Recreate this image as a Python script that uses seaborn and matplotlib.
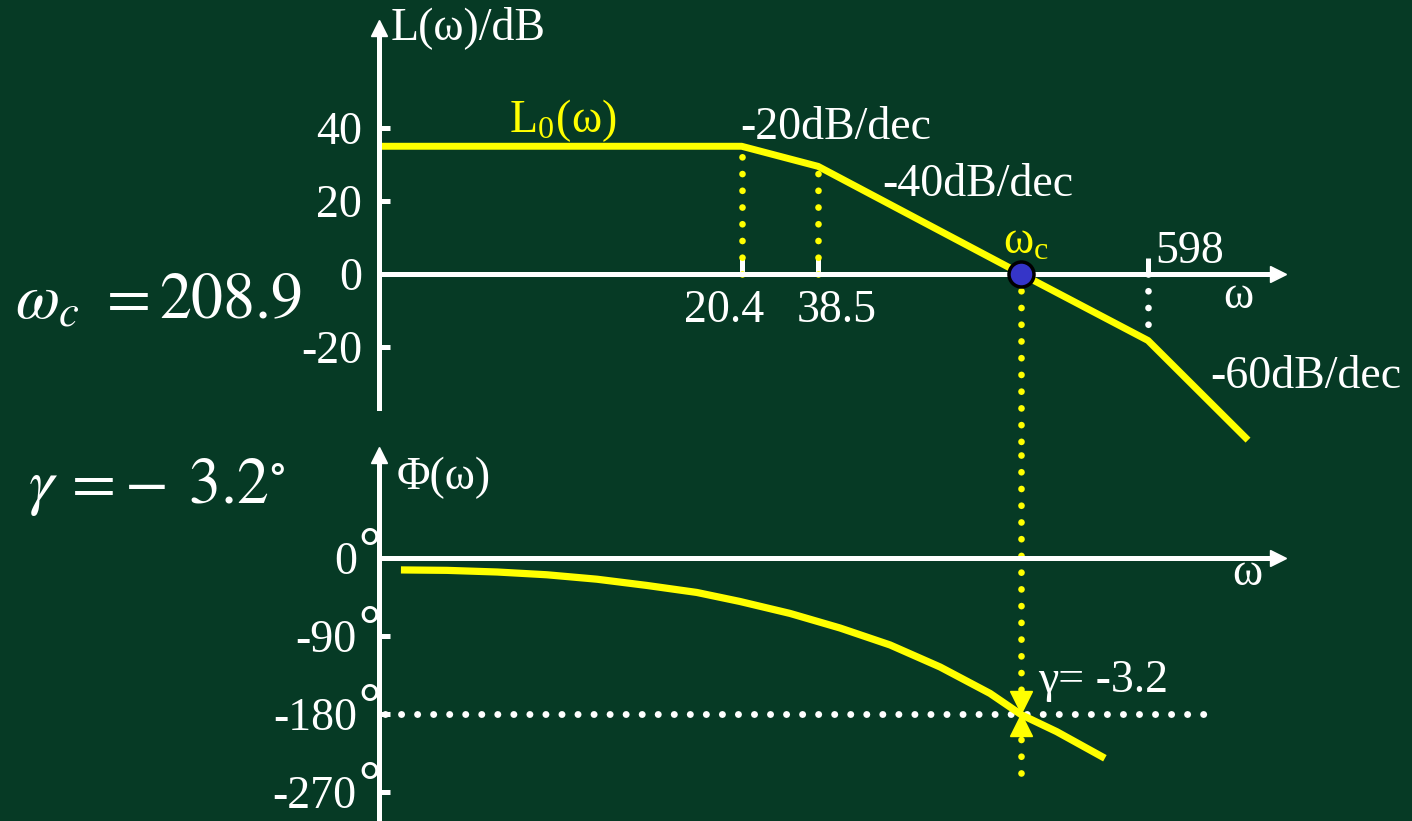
import matplotlib
matplotlib.use('Agg')
import matplotlib.pyplot as plt
import seaborn as sns
from matplotlib.ticker import NullLocator
from matplotlib.transforms import ScaledTranslation

# asymptotic magnitude L0(w)
mag_w = [1.0, 20.4, 38.5, 208.9, 598, 1374]
mag_db = [35, 35, 29.5, 0, -18.2, -45.5]

# phase curve
phase_w = [1.20, 1.76, 2.67, 4.04, 6.12, 9.27, 14.05, 20.1, 30.5, 46.2,
           70.1, 106.2, 160.9, 208.9, 280, 418]
phase_deg = [-13.8, -14.3, -16.2, -19.4, -24.5, -31.7, -39.8, -50.2, -64.0,
             -80.8, -100.4, -125.8, -156.3, -181, -200.4, -231.1]

wc = 208.9
gamma = -3.2
break_w = [20.4, 38.5, 598]
break_labels = ['20.4', '38.5', '598']
db_ticks = [-20, 0, 20, 40]
deg_ticks = [-270, -180, -90, 0]
slope_labels = ['-20dB/dec', '-40dB/dec', '-60dB/dec']

BG = '#063a25'
YEL = '#ffff00'
DOT = (0, (0.01, 2.5))
PX = 0.72  # one pixel in points at dpi 100
FS = 33

sns.set_theme(style='white', rc={'axes.facecolor': BG, 'figure.facecolor': BG})
plt.rcParams['font.family'] = ['Liberation Serif', 'DejaVu Serif']
plt.rcParams['mathtext.fontset'] = 'stix'

W, H = 1412, 821
fig = plt.figure(figsize=(W / 100, H / 100), dpi=100)


def add_ax(left, top, right, bottom):
    return fig.add_axes([left / W, 1 - bottom / H, (right - left) / W, (bottom - top) / H])


ax1 = add_ax(379, 28, 1278, 408)
ax2 = add_ax(379, 455, 1278, 821)

for ax, ylim in [(ax1, (-36.7, 67.4)), (ax2, (-303.5, 118.8))]:
    ax.set_facecolor('none')
    ax.set_xscale('log')
    ax.set_xlim(1, 1763)
    ax.set_ylim(*ylim)
    ax.spines['top'].set_visible(False)
    ax.spines['right'].set_visible(False)
    ax.spines['bottom'].set_position(('data', 0))
    for s in ['left', 'bottom']:
        ax.spines[s].set_color('white')
        ax.spines[s].set_linewidth(3.6)
    ax.xaxis.set_minor_locator(NullLocator())
    ax.plot(1, 0, '>', color='white', ms=12, transform=ax.get_yaxis_transform(), clip_on=False)
    ax.plot(0, 1, '^', color='white', ms=12, transform=ax.transAxes, clip_on=False)
    ax.tick_params(axis='y', direction='in', length=8, width=3.6, color='white',
                   labelcolor='white', labelsize=FS, pad=12, left=True)

# ---------- magnitude ----------
ax1.set_yticks(db_ticks)
ax1.set_yticklabels([str(t) for t in db_ticks])
ax1.set_xticks(break_w)
ax1.set_xticklabels([])
ax1.tick_params(axis='x', direction='in', length=11.5, width=3.6, color='white', bottom=True)
for t in ax1.xaxis.get_major_ticks()[:2]:
    t.tick1line.set_color('black')

# dotted guides at the break frequencies
for w, l, c in zip(break_w, [35, 29.5, -18.2], [YEL, YEL, 'white']):
    ax1.plot([w, w], [0, l], color=c, lw=4.8, ls=DOT, dash_capstyle='round', zorder=1)
ax1.plot([wc, wc], [0, -49.5], color=YEL, lw=4.8, ls=DOT,
         dash_capstyle='round', clip_on=False, zorder=1)

sns.lineplot(x=mag_w, y=mag_db, ax=ax1, color=YEL, lw=5, sort=False)
ax1.lines[-1].set_solid_capstyle('butt')
ax1.lines[-1].set_clip_on(False)
sns.scatterplot(x=[wc], y=[0], ax=ax1, s=18 ** 2, color='#3535c8',
                edgecolor='black', linewidth=2.5, zorder=5)

txt = dict(color='white', fontsize=FS, textcoords='offset points')
ax1.annotate('L(ω)/dB', xy=(0, 1), xycoords='axes fraction', xytext=(12 * PX, 0),
             va='center', ha='left', **txt)
ax1.annotate('ω', xy=(1, 0), xycoords=('axes fraction', 'data'), xytext=(-40 * PX, -23 * PX),
             va='center', ha='center', **txt)
for w, lab, off in zip(break_w, break_labels, [(-18, -37), (19, -37), (42, 22)]):
    ax1.annotate(lab, xy=(w, 0), xytext=(off[0] * PX, off[1] * PX), va='center', ha='center', **txt)
ax1.annotate(r'L$_\mathregular{0}$(ω)', xy=(4.6, 42), xytext=(0, 0), va='center', ha='center',
             **{**txt, 'color': YEL})
ax1.annotate(r'ω$_\mathregular{c}$', xy=(wc, 0), xytext=(5 * PX, 32 * PX), va='center', ha='center',
             **{**txt, 'color': YEL})
for (w, l), lab in zip([(20.2, 40), (65.6, 24.4), (1002, -28.2)], slope_labels):
    ax1.annotate(lab, xy=(w, l), xytext=(0, 0), va='center', ha='left',
                 annotation_clip=False, **txt)

# ---------- phase ----------
ax2.set_yticks(deg_ticks)
ax2.set_yticklabels([str(t) for t in deg_ticks])
ax2.tick_params(axis='y', pad=16)
ax2.set_xticks([])
ax2.yaxis.get_major_ticks()[3].tick1line.set_color('black')
# degree rings sit above-right of each tick label
for d in deg_ticks:
    ax2.annotate('°', xy=(0, d), xycoords=('axes fraction', 'data'), xytext=(-21 * PX, 6 * PX),
                 textcoords='offset points', color='white', fontsize=40, fontweight='bold',
                 ha='left', va='center', annotation_clip=False)

ax2.plot([1.05, 1045], [-180, -180], color='white', lw=5, ls=(0, (0.01, 2.3)),
         dash_capstyle='round', zorder=1)
ax2.plot([wc, wc], [ax2.get_ylim()[1], -252], color=YEL, lw=4.8, ls=DOT,
         dash_capstyle='round', clip_on=False, zorder=1)

sns.lineplot(x=phase_w, y=phase_deg, ax=ax2, color=YEL, lw=5.2, sort=False)
ax2.lines[-1].set_solid_capstyle('butt')
for mk, dy in [('v', 11.5), ('^', -11.5)]:
    ax2.plot(wc, -180, mk, color=YEL, ms=16.5,
             transform=ax2.transData + ScaledTranslation(0, dy / 100, fig.dpi_scale_trans))

ax2.annotate('Φ(ω)', xy=(0, 1), xycoords='axes fraction', xytext=(18 * PX, -23 * PX),
             va='center', ha='left', **txt)
ax2.annotate('ω', xy=(1, 0), xycoords=('axes fraction', 'data'), xytext=(-31 * PX, -16 * PX),
             va='center', ha='center', **txt)
ax2.annotate(f'γ= {gamma}', xy=(wc, -180), xytext=(17 * PX, 33 * PX), va='center', ha='left', **txt)

# ---------- results on the left ----------
fig.text(15 / W, 1 - 303 / H, r'$\omega_c\ = 208.9$', color='white', fontsize=46, va='center')
fig.text(28 / W, 1 - 487 / H, r'$\gamma\, ={-}\;\,3.2^{\circ}$', color='white', fontsize=46, va='center')

fig.savefig('out.png', dpi=100, facecolor=BG)
